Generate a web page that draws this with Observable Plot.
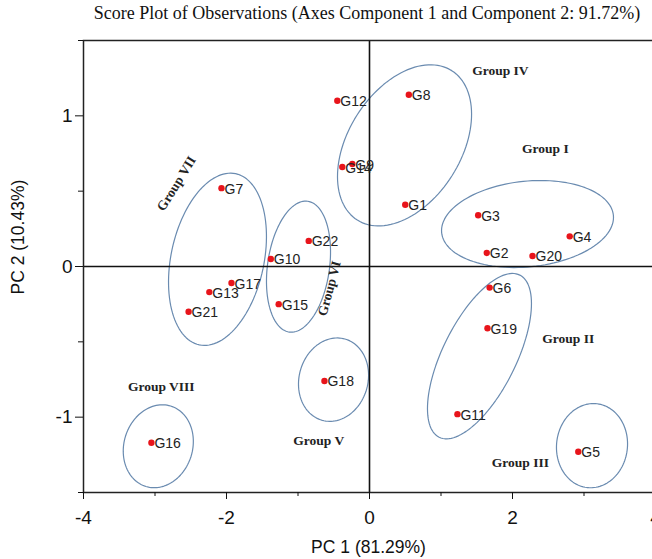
<!DOCTYPE html>
<html>
<head>
<meta charset="utf-8">
<script src="https://cdn.jsdelivr.net/npm/d3@7"></script>
<script src="https://cdn.jsdelivr.net/npm/@observablehq/plot@0.6"></script>
<style>
  html, body { margin: 0; padding: 0; background: #fff; }
  #wrap { position: relative; width: 652px; height: 559px; overflow: hidden; background: #fff; }
  #title { position: absolute; left: 0; top: 3px; width: 734px; text-align: center;
           font-family: "Liberation Serif", "Times New Roman", serif; font-size: 18px; color: #111; white-space: nowrap; }
  #chart { position: absolute; left: 0; top: 0; width: 700px; height: 559px; }
  #chart svg { max-width: none !important; width: 700px !important; height: 559px !important; }
</style>
</head>
<body>
<div id="wrap">
  <div id="chart"></div>
  <div id="title">Score Plot of Observations (Axes Component 1 and Component 2: 91.72%)</div>
</div>
<script>
// Observations (PC1, PC2 scores)
const obsNames = ["G1","G2","G3","G4","G5","G6","G7","G8","G9","G10","G11","G12","G13","G14","G15","G16","G17","G18","G19","G20","G21","G22"];
const pc1 = [0.50, 1.64, 1.52, 2.80, 2.92, 1.68, -2.07, 0.55, -0.24, -1.38, 1.23, -0.45, -2.24, -0.38, -1.27, -3.05, -1.93, -0.63, 1.65, 2.28, -2.53, -0.85];
const pc2 = [0.41, 0.09, 0.34, 0.20, -1.23, -0.14, 0.52, 1.14, 0.68, 0.05, -0.98, 1.10, -0.17, 0.66, -0.25, -1.17, -0.11, -0.76, -0.41, 0.07, -0.30, 0.17];

// Group ellipses: centre and two conjugate half-axis vectors (data units)
const groupIds = ["I","II","III","IV","V","VI","VII","VIII"];
const ellCx = [2.21, 1.538, 3.112, 0.49, -0.503, -0.993, -2.126, -2.954];
const ellCy = [0.282, -0.595, -1.189, 0.804, -0.751, -0.001, 0.048, -1.193];
const ellUx = [1.201, 0.564, 0.072, 0.660, 0.158, 0.129, 0.254, 0.172];
const ellUy = [0.058, 0.538, 0.278, 0.496, 0.270, 0.434, 0.568, 0.267];
const ellVx = [-0.060, -0.459, -0.492, -0.666, -0.464, -0.429, -0.636, -0.459];
const ellVy = [0.283, 0.109, 0.029, 0.200, 0.061, 0.029, 0.064, 0.066];

// Group labels
const groupNames = ["Group I","Group II","Group III","Group IV","Group V","Group VI","Group VII","Group VIII"];
const groupLabelX = [2.46, 2.78, 2.11, 1.83, -0.71, -0.56, -2.70, -2.913];
const groupLabelY = [0.78, -0.48, -1.30, 1.30, -1.156, -0.146, 0.55, -0.797];
const groupLabelAngle = [0, 0, 0, 0, 0, -75, -58, 0];

// Axes
const xMajor = [-4, -2, 0, 2, 4];
const xMinor = [-3, -1, 1, 3];
const yMajor = [-1, 0, 1];
const yMinor = [-1.5, -0.5, 0.5, 1.5];
const xTitle = "PC 1 (81.29%)";
const yTitle = "PC 2 (10.43%)";

const obs = obsNames.map((n, i) => ({name: n, x: pc1[i], y: pc2[i]}));
const labels = groupNames.map((n, i) => ({name: n, x: groupLabelX[i], y: groupLabelY[i], a: groupLabelAngle[i]}));
const ellRows = [];
groupIds.forEach((g, i) => {
  for (let k = 0; k < 120; k++) {
    const t = (k / 120) * 2 * Math.PI;
    ellRows.push({g,
      x: ellCx[i] + ellUx[i] * Math.cos(t) + ellVx[i] * Math.sin(t),
      y: ellCy[i] + ellUy[i] * Math.cos(t) + ellVy[i] * Math.sin(t)});
  }
});

const sans = "'Liberation Sans', Arial, sans-serif";
const serif = "'Liberation Serif', 'Times New Roman', serif";

const chart = Plot.plot({
  width: 700,
  height: 559,
  marginLeft: 83,
  marginRight: 45,
  marginTop: 40,
  marginBottom: 67,
  x: {domain: [-4, 4]},
  y: {domain: [-1.5, 1.5]},
  style: {fontFamily: sans, color: "#111", background: "#fff", overflow: "visible", maxWidth: "none"},
  marks: [
    Plot.line(ellRows, {x: "x", y: "y", z: "g", curve: "linear-closed", stroke: "#6a8bb0", strokeWidth: 1.2}),
    Plot.ruleX([0], {stroke: "#111", strokeWidth: 1.6}),
    Plot.ruleY([0], {stroke: "#111", strokeWidth: 1.6}),
    Plot.frame({stroke: "#222", strokeWidth: 1.5}),
    Plot.axisX({ticks: xMajor, tickSize: 7, tickPadding: 11, fontSize: 19, tickFormat: d => String(d), label: null}),
    Plot.axisX({ticks: xMinor, tickSize: 4, tickFormat: () => "", label: null}),
    Plot.axisY({ticks: yMajor, tickSize: 8, tickPadding: 3, fontSize: 19, tickFormat: d => String(d), label: null}),
    Plot.axisY({ticks: yMinor, tickSize: 5, tickFormat: () => "", label: null}),
    Plot.dot(obs, {x: "x", y: "y", r: 3.2, fill: "#e8141b", stroke: null}),
    Plot.text(obs, {x: "x", y: "y", text: "name", textAnchor: "start", dx: 3, dy: 1, fontSize: 14, fill: "#222", fontFamily: sans}),
    Plot.text(labels, {x: "x", y: "y", text: "name", rotate: "a", fontSize: 13.5, fontWeight: "bold", fill: "#222", fontFamily: serif}),
    Plot.text([xTitle], {frameAnchor: "bottom", dx: -1, dy: 60, text: d => d, fontSize: 17.5, fill: "#111", fontFamily: sans}),
    Plot.text([yTitle], {frameAnchor: "left", dx: -65, dy: 28, rotate: -90, text: d => d, fontSize: 17.5, fill: "#111", fontFamily: sans})
  ]
});
document.getElementById("chart").appendChild(chart);
</script>
</body>
</html>
